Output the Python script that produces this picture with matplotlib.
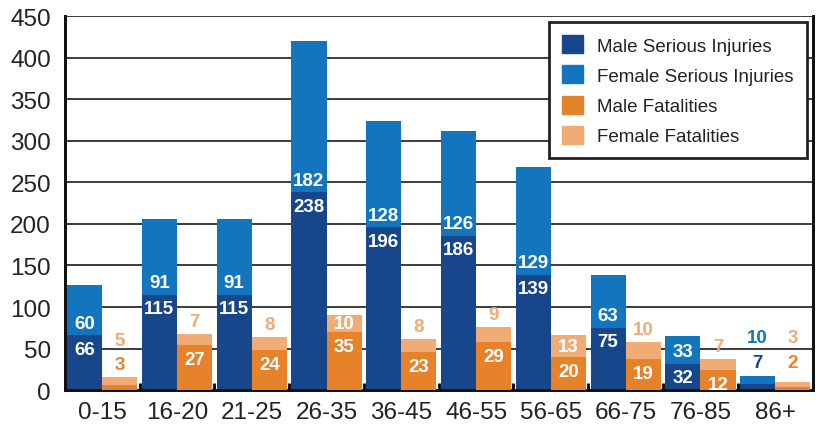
import numpy as np
import matplotlib
matplotlib.use("Agg")
import matplotlib.pyplot as plt
from matplotlib.patches import Patch

plt.rcParams["font.family"] = ["Liberation Sans", "DejaVu Sans"]

cats = ["0-15", "16-20", "21-25", "26-35", "36-45", "46-55", "56-65", "66-75", "76-85", "86+"]
male_inj = [66, 115, 115, 238, 196, 186, 139, 75, 32, 7]
female_inj = [60, 91, 91, 182, 128, 126, 129, 63, 33, 10]
male_fat = [3, 27, 24, 35, 23, 29, 20, 19, 12, 2]
female_fat = [5, 7, 8, 10, 8, 9, 13, 10, 7, 3]

c_mi = "#17468a"
c_fi = "#1275bd"
c_mf = "#e6822a"
c_ff = "#f0ac74"

fig = plt.figure(figsize=(8.2, 4.27), dpi=100)
ax = fig.add_axes([0.079, 0.084, 0.912, 0.876])
ax2 = ax.twinx()

x = np.arange(len(cats))
w = 0.47

ax.bar(x - w / 2, male_inj, w, color=c_mi, zorder=3)
ax.bar(x - w / 2, female_inj, w, bottom=male_inj, color=c_fi, zorder=3)
ax2.bar(x + w / 2, male_fat, w, color=c_mf, zorder=3)
ax2.bar(x + w / 2, female_fat, w, bottom=male_fat, color=c_ff, zorder=3)

ax.set_ylim(0, 450)
ax2.set_ylim(0, 225)
ax.set_xlim(-0.5, len(cats) - 0.5)
scale = 450 / 225

ax.set_yticks(np.arange(0, 451, 50))
ax.yaxis.grid(True, color="#3c3c3c", lw=1.4, zorder=0)
ax.set_axisbelow(True)
ax.set_xticks(x)
ax.set_xticklabels(cats)
ax.set_xticks(np.arange(-0.5, len(cats), 1), minor=True)
ax.tick_params(axis="x", which="major", length=0, labelsize=17.5, pad=8, colors="#222222")
ax.tick_params(axis="x", which="minor", direction="in", length=5, width=2)
ax.tick_params(axis="y", length=0, labelsize=17.5, pad=10, colors="#222222")
ax2.set_yticks([])
for a in (ax, ax2):
    a.spines["top"].set_visible(False)
    for s in ("left", "bottom", "right"):
        a.spines[s].set_linewidth(2)
        a.spines[s].set_color("#111111")

lab = dict(ha="center", va="center", fontsize=13.5, fontweight="bold", textcoords="offset points")
fat_inside = {"26-35", "56-65"}

for i, c in enumerate(cats):
    mi, fi = male_inj[i], female_inj[i]
    fm, ff = male_fat[i], female_fat[i]
    # whole group too small: all labels above the bars
    if mi < 20:
        base = max(mi + fi, (fm + ff) * scale)
        ax.annotate(str(mi), (x[i] - w / 2, base), xytext=(0, 10), color=c_mi, **lab)
        ax.annotate(str(fi), (x[i] - w / 2, base), xytext=(0, 28), color=c_fi, **lab)
        ax2.annotate(str(fm), (x[i] + w / 2, base / scale), xytext=(0, 10), color=c_mf, **lab)
        ax2.annotate(str(ff), (x[i] + w / 2, base / scale), xytext=(0, 28), color=c_ff, **lab)
        continue
    ax.annotate(str(mi), (x[i] - w / 2, mi), xytext=(0, -10), color="white", **lab)
    ax.annotate(str(fi), (x[i] - w / 2, mi), xytext=(0, 8.5), color="white", **lab)
    top = fm + ff
    if fm * scale < 15:
        ax2.annotate(str(fm), (x[i] + w / 2, top), xytext=(0, 9), color=c_mf, **lab)
        ax2.annotate(str(ff), (x[i] + w / 2, top), xytext=(0, 26), color=c_ff, **lab)
        continue
    ax2.annotate(str(fm), (x[i] + w / 2, fm), xytext=(0, -10.5), color="white", **lab)
    if c in fat_inside:
        ax2.annotate(str(ff), (x[i] + w / 2, fm + ff / 2), xytext=(0, 0), color="white", **lab)
    else:
        ax2.annotate(str(ff), (x[i] + w / 2, top), xytext=(0, 9), color=c_ff, **lab)

handles = [Patch(color=c_mi), Patch(color=c_fi), Patch(color=c_mf), Patch(color=c_ff)]
names = ["Male Serious Injuries", "Female Serious Injuries", "Male Fatalities", "Female Fatalities"]
leg = ax2.legend(handles, names, loc="upper right", bbox_to_anchor=(0.992, 0.984), borderaxespad=0,
                 fontsize=13.5, handlelength=1.1, handleheight=1.1, handletextpad=0.75,
                 labelspacing=0.58, borderpad=0.7, fancybox=False, framealpha=1)
leg.get_frame().set_edgecolor("#222222")
leg.get_frame().set_linewidth(2)
for t in leg.get_texts():
    t.set_color("#222222")

fig.savefig("out.png", dpi=100)
